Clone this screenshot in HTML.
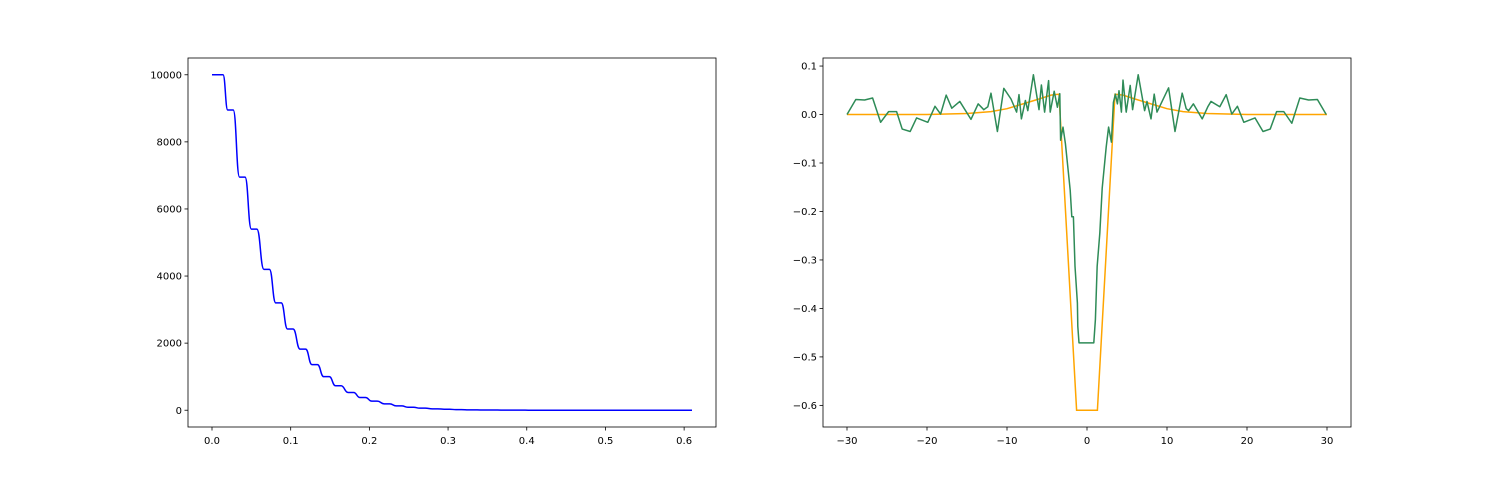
<!DOCTYPE html>
<html><head><meta charset="utf-8"><style>
html,body{margin:0;padding:0;background:#fff;}
svg{display:block;font-family:"DejaVu Sans","Liberation Sans",sans-serif;}
</style></head><body>
<svg id="fig" width="1500" height="480"></svg>
<script>
// Left chart data
const leftStepStart = [0,0.020,0.035,0.050,0.066,0.081,0.096,0.112,0.127,0.142,0.157,0.173,0.188,0.203,0.219,0.234,0.249,0.264,0.280,0.295,0.310,0.326,0.341,0.356,0.371,0.387,0.402,0.417,0.433];
const leftStepEnd   = [0.014,0.027,0.042,0.057,0.073,0.088,0.103,0.119,0.134,0.149,0.164,0.180,0.195,0.210,0.226,0.241,0.256,0.271,0.287,0.302,0.317,0.333,0.348,0.363,0.378,0.394,0.409,0.424,0.61];
const leftLevels    = [10000,8950,6950,5400,4200,3200,2420,1820,1360,1000,730,530,380,270,190,130,90,62,42,28,19,12,8,5,3,2,1,0.5,0];
const leftXTicks = [0.0,0.1,0.2,0.3,0.4,0.5,0.6];
const leftXTickLabels = ["0.0","0.1","0.2","0.3","0.4","0.5","0.6"];
const leftYTicks = [0,2000,4000,6000,8000,10000];
const leftYTickLabels = ["0","2000","4000","6000","8000","10000"];
// Right chart data
const orangeX = [-30,-20,-15,-12,-10,-8,-6,-4.5,-3.5,-1.3,1.3,3.5,4.5,6,8,10,12,15,20,30];
const orangeY = [0,0,0.002,0.006,0.012,0.022,0.032,0.040,0.042,-0.61,-0.61,0.042,0.040,0.032,0.022,0.012,0.006,0.002,0,0];
const greenX = [-30,-28.9,-27.8,-26.8,-25.8,-24.8,-23.8,-23.1,-22.1,-21.3,-19.9,-19.0,-18.3,-17.6,-16.9,-15.9,-14.5,-13.6,-12.9,-12.4,-12.0,-11.2,-10.4,-9.5,-8.8,-8.5,-8.2,-7.7,-7.4,-6.7,-6.0,-5.7,-5.3,-4.8,-4.6,-4.1,-3.7,-3.4,-3.3,-3.0,-2.7,-2.1,-1.9,-1.7,-1.5,-1.2,-1.15,-1.0,0.85,1.05,1.27,1.6,1.9,2.4,2.7,3.05,3.3,3.55,3.8,4.0,4.3,4.5,4.9,5.4,5.7,6.4,7.2,7.5,8.0,8.4,8.75,10.2,11.0,11.9,12.4,12.7,13.3,14.4,15.1,15.5,16.6,17.4,18.1,18.8,19.6,21.0,22.0,22.9,23.7,24.6,25.6,26.6,27.7,28.8,29.9];
const greenY = [0,0.031,0.030,0.034,-0.016,0.006,0.006,-0.030,-0.035,-0.007,-0.016,0.017,0.001,0.040,0.013,0.027,-0.010,0.022,0.010,0.016,0.044,-0.035,0.054,0.032,0.005,0.041,-0.009,0.029,0.008,0.082,0.010,0.061,0.005,0.070,0.005,0.048,0.015,0.043,-0.053,-0.026,-0.060,-0.156,-0.211,-0.211,-0.313,-0.389,-0.437,-0.471,-0.471,-0.423,-0.313,-0.245,-0.152,-0.067,-0.026,-0.057,0.025,0.042,0.022,0.049,0.005,0.071,0.005,0.060,0.010,0.082,0.008,0.027,-0.009,0.042,0.005,0.055,-0.035,0.044,0.012,0.008,0.022,-0.009,0.016,0.027,0.016,0.041,0.001,0.017,-0.016,-0.007,-0.035,-0.030,0.006,0.006,-0.018,0.034,0.030,0.031,0];
const rightXTicks = [-30,-20,-10,0,10,20,30];
const rightXTickLabels = ["−30","−20","−10","0","10","20","30"];
const rightYTicks = [0.1,0,-0.1,-0.2,-0.3,-0.4,-0.5,-0.6];
const rightYTickLabels = ["0.1","0.0","−0.1","−0.2","−0.3","−0.4","−0.5","−0.6"];

const NS="http://www.w3.org/2000/svg";
const svg=document.getElementById('fig');
function mk(tag,attrs,parent){const e=document.createElementNS(NS,tag);for(const k in attrs)e.setAttribute(k,attrs[k]);(parent||svg).appendChild(e);return e;}

function axes(name,x0,x1,y0,y1,xmin,xmax,ymin,ymax,xt,xtl,yt,ytl){
  const g=mk('g',{});
  
  
  const sx=v=>x0+(v-xmin)/(xmax-xmin)*(x1-x0);
  const sy=v=>y1-(v-ymin)/(ymax-ymin)*(y1-y0);
  xt.forEach((t,i)=>{
    const X=sx(t);
    const l=mk('line',{x1:X,x2:X,y1:y1,y2:y1+3.5,stroke:'#000','stroke-width':0.8},g);
    
    
    const tx=mk('text',{x:X,y:y1+17,'font-size':10,'text-anchor':'middle',fill:'#000'},g);
    
    
    tx.textContent=xtl[i];
  });
  yt.forEach((t,i)=>{
    const Y=sy(t);
    const l=mk('line',{x1:x0-3.5,x2:x0,y1:Y,y2:Y,stroke:'#000','stroke-width':0.8},g);
    
    
    const tx=mk('text',{x:x0-6,y:Y+3.6,'font-size':10,'text-anchor':'end',fill:'#000'},g);
    
    
    tx.textContent=ytl[i];
  });
  return {g,sx,sy,frame:()=>{const r=mk('rect',{x:x0,y:y0,width:x1-x0,height:y1-y0,fill:'none',stroke:'#000','stroke-width':0.8},g);
    
    }};
}

// Left
const L=axes('left-chart',188,716,58,427,-0.0305,0.6405,-500,10500,leftXTicks,leftXTickLabels,leftYTicks,leftYTickLabels);
let d='';
for(let i=0;i<leftLevels.length;i++){
  const xs=L.sx(leftStepStart[i]),xe=L.sx(leftStepEnd[i]),y=L.sy(leftLevels[i]);
  if(i===0) d+=`M${xs},${y}`;
  else{
    const px=L.sx(leftStepEnd[i-1]),py=L.sy(leftLevels[i-1]);
    const m=(xs-px)*0.5;
    d+=` C${px+m},${py} ${xs-m},${y} ${xs},${y}`;
  }
  d+=` L${xe},${y}`;
}
const lp=mk('path',{d:d,fill:'none',stroke:'#0000ff','stroke-width':1.5},L.g);


L.frame();

// Right
const R=axes('right-chart',823,1351,58,427,-33,33,-0.6446,0.1166,rightXTicks,rightXTickLabels,rightYTicks,rightYTickLabels);
const op=mk('polyline',{points:orangeX.map((x,i)=>R.sx(x)+','+R.sy(orangeY[i])).join(' '),fill:'none',stroke:'#ffa500','stroke-width':1.5},R.g);


const gp=mk('polyline',{points:greenX.map((x,i)=>R.sx(x)+','+R.sy(greenY[i])).join(' '),fill:'none',stroke:'#2e8b57','stroke-width':1.5,'stroke-linejoin':'round'},R.g);


R.frame();
</script>
</body></html>
